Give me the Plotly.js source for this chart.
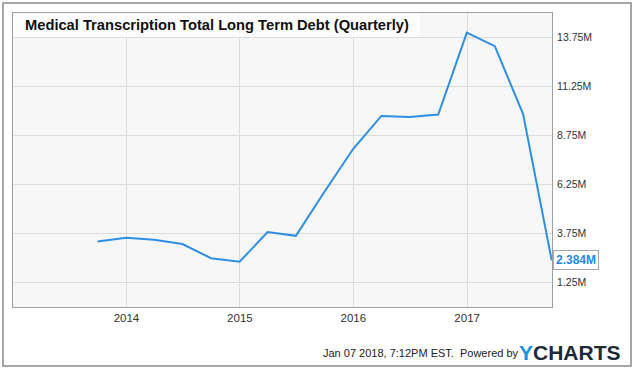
<!DOCTYPE html>
<html>
<head>
<meta charset="utf-8">
<script src="https://cdn.plot.ly/plotly-3.0.1.min.js"></script>
<style>html,body{margin:0;padding:0;background:#fff;}#chart{width:636px;height:372px;}</style>
</head>
<body>
<div id="chart"></div>
<script>
// Quarter-end dates
var quarters = ['2013-09-30','2013-12-31','2014-03-31','2014-06-30','2014-09-30','2014-12-31',
  '2015-03-31','2015-06-30','2015-09-30','2015-12-31','2016-03-31','2016-06-30','2016-09-30',
  '2016-12-31','2017-03-31','2017-06-30','2017-09-30'];
// Total long term debt, millions USD
var debtM = [3.34, 3.53, 3.43, 3.21, 2.49, 2.31, 3.82, 3.63, 5.88, 8.06, 9.75, 9.70, 9.82,
  14.00, 13.31, 9.84, 2.384];
var xTickVals = ['2014-01-01', '2015-01-01', '2016-01-01', '2017-01-01'];
var xTickText = ['2014', '2015', '2016', '2017'];
var yTickVals = [1.25, 3.75, 6.25, 8.75, 11.25, 13.75];
var yTickText = ['1.25M', '3.75M', '6.25M', '8.75M', '11.25M', '13.75M'];
var titleText = 'Medical Transcription Total Long Term Debt (Quarterly)';
var lastLabel = '2.384M';
var footerText = 'Jan 07 2018, 7:12PM EST.  Powered by';

var font = 'Arial, "Liberation Sans", sans-serif';
var n = debtM.length;

var trace = {
  x: quarters, y: debtM, type: 'scatter', mode: 'lines',
  line: {color: '#2f8fe3', width: 2}, hoverinfo: 'x+y'
};

var layout = {
  width: 636, height: 372,
  margin: {l: 13, r: 84, t: 13, b: 65},
  paper_bgcolor: '#ffffff',
  plot_bgcolor: '#f7f7f7',
  showlegend: false,
  font: {family: font, color: '#333333', size: 11},
  xaxis: {
    type: 'date', range: ['2013-01-01', '2017-10-01'],
    tickmode: 'array', tickvals: xTickVals, ticktext: xTickText,
    showgrid: true, gridcolor: '#dcdcdc', gridwidth: 1,
    showline: true, linecolor: '#a0a0a0', linewidth: 1, mirror: true,
    ticks: '', tickfont: {family: font, size: 11.5, color: '#333'},
    zeroline: false, fixedrange: true
  },
  yaxis: {
    side: 'right', range: [0, 15],
    tickmode: 'array', tickvals: yTickVals, ticktext: yTickText,
    showgrid: true, gridcolor: '#dcdcdc', gridwidth: 1,
    showline: true, linecolor: '#a0a0a0', linewidth: 1, mirror: true,
    ticks: '', ticklabelstandoff: 2,
    tickfont: {family: font, size: 10.5, color: '#333'},
    zeroline: false, fixedrange: true
  },
  shapes: [
    // title backdrop
    {type: 'rect', xref: 'paper', yref: 'paper', x0: 0, x1: 0.755, y0: 0.918, y1: 1,
     fillcolor: 'rgba(255,255,255,0.75)', line: {width: 0}, layer: 'above'},
    // outer frame
    {type: 'rect', xref: 'paper', yref: 'paper', x0: -0.0186, x1: 1.1466, y0: -0.2007, y1: 1.034,
     fillcolor: 'rgba(0,0,0,0)', line: {color: '#8a8a8a', width: 1.5}, layer: 'above'}
  ],
  annotations: [
    {xref: 'paper', yref: 'paper', x: 0.019, y: 0.959, xanchor: 'left', yanchor: 'middle',
     text: '<b>' + titleText + '</b>', showarrow: false,
     font: {family: font, size: 14.7, color: '#111'}},
    {x: quarters[n - 1], y: debtM[n - 1], xref: 'x', yref: 'y', xanchor: 'left', yanchor: 'middle',
     xshift: 1, text: '<b>' + lastLabel + '</b>', showarrow: false,
     font: {family: font, size: 12, color: '#1f8ae6'},
     bgcolor: '#ffffff', bordercolor: '#a8a8a8', borderwidth: 1, borderpad: 2},
    {xref: 'paper', yref: 'paper', x: 0.942, y: -0.155, xanchor: 'right', yanchor: 'middle',
     text: footerText, showarrow: false, font: {family: font, size: 11, color: '#222'}},
    {xref: 'paper', yref: 'paper', x: 0.935, y: -0.155, xanchor: 'left', yanchor: 'middle',
     text: '<b><span style="color:#1b8fe0">Y</span>CHARTS</b>', showarrow: false,
     font: {family: font, size: 21, color: '#1d2a38'}}
  ]
};

Plotly.newPlot('chart', [trace], layout, {displayModeBar: false, staticPlot: true});
</script>
</body>
</html>
